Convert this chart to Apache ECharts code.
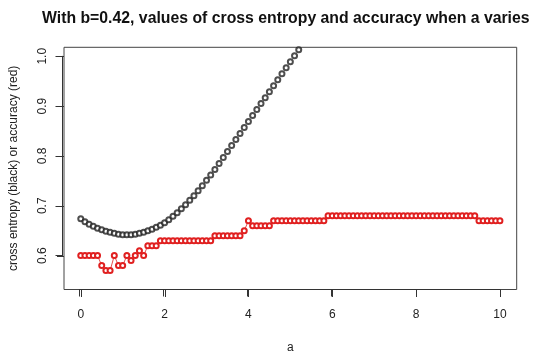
<!DOCTYPE html>
<html>
<head>
<meta charset="utf-8">
<script src="https://cdn.jsdelivr.net/npm/echarts@6/dist/echarts.min.js"></script>
<style>
html,body{margin:0;padding:0;background:#fff;}
#chart{width:540px;height:360px;}
</style>
</head>
<body>
<div id="chart"></div>
<script>
var aValues = [0.0,0.1,0.2,0.3,0.4,0.5,0.6,0.7,0.8,0.9,1.0,1.1,1.2,1.3,1.4,1.5,1.6,1.7,1.8,1.9,2.0,2.1,2.2,2.3,2.4,2.5,2.6,2.7,2.8,2.9,3.0,3.1,3.2,3.3,3.4,3.5,3.6,3.7,3.8,3.9,4.0,4.1,4.2,4.3,4.4,4.5,4.6,4.7,4.8,4.9,5.0,5.1,5.2,5.3,5.4,5.5,5.6,5.7,5.8,5.9,6.0,6.1,6.2,6.3,6.4,6.5,6.6,6.7,6.8,6.9,7.0,7.1,7.2,7.3,7.4,7.5,7.6,7.7,7.8,7.9,8.0,8.1,8.2,8.3,8.4,8.5,8.6,8.7,8.8,8.9,9.0,9.1,9.2,9.3,9.4,9.5,9.6,9.7,9.8,9.9,10.0];
// cross entropy (black) — only the part inside the plot region is visible
var crossEntropy = [0.674,0.668,0.663,0.659,0.655,0.652,0.649,0.647,0.645,0.643,0.642,0.642,0.642,0.643,0.645,0.647,0.650,0.653,0.657,0.661,0.666,0.672,0.679,0.686,0.694,0.702,0.711,0.720,0.730,0.740,0.751,0.762,0.773,0.785,0.797,0.809,0.821,0.833,0.845,0.857,0.869,0.881,0.893,0.905,0.917,0.929,0.941,0.953,0.965,0.977,0.989,1.001,1.013];
// accuracy (red)
var accuracy = [0.60,0.60,0.60,0.60,0.60,0.58,0.57,0.57,0.60,0.58,0.58,0.60,0.59,0.60,0.61,0.60,0.62,0.62,0.62,0.63,0.63,0.63,0.63,0.63,0.63,0.63,0.63,0.63,0.63,0.63,0.63,0.63,0.64,0.64,0.64,0.64,0.64,0.64,0.64,0.65,0.67,0.66,0.66,0.66,0.66,0.66,0.67,0.67,0.67,0.67,0.67,0.67,0.67,0.67,0.67,0.67,0.67,0.67,0.67,0.68,0.68,0.68,0.68,0.68,0.68,0.68,0.68,0.68,0.68,0.68,0.68,0.68,0.68,0.68,0.68,0.68,0.68,0.68,0.68,0.68,0.68,0.68,0.68,0.68,0.68,0.68,0.68,0.68,0.68,0.68,0.68,0.68,0.68,0.68,0.68,0.67,0.67,0.67,0.67,0.67,0.67];
var xTicks = [0,2,4,6,8,10];
var yTicks = [0.6,0.7,0.8,0.9,1.0];
var titleText = 'With b=0.42, values of cross entropy and accuracy when a varies';
var xName = 'a';
var yName = 'cross entropy (black) or accuracy (red)';

var blackData = crossEntropy.map(function(v,i){return [aValues[i], v];});
var redData = accuracy.map(function(v,i){return [aValues[i], v];});

// plot box (R-style 4% axis extension)
var X_MIN = -0.4, X_MAX = 10.4, Y_MIN = 0.532, Y_MAX = 1.018;
var L = 62.5, R = 23.3, T = 47.3, B = 70.5, W = 540, H = 360;
var TICK_LEN = 7;
var pxX = (W - L - R) / (X_MAX - X_MIN);
var pxY = (H - T - B) / (Y_MAX - Y_MIN);
var xt0 = xTicks[0], xt1 = xTicks[xTicks.length-1];
var yt0 = yTicks[0], yt1 = yTicks[yTicks.length-1];

var chart = echarts.init(document.getElementById('chart'), null, {renderer:'canvas'});
var font = 'Liberation Sans, Arial, sans-serif';
var labStyle = {fontFamily:font, fontSize:12, color:'#222'};
var tickOpt = {show:true, inside:false, length:TICK_LEN, lineStyle:{color:'#333', width:1}};

chart.setOption({
  animation:false,
  backgroundColor:'#fff',
  title:{
    text:titleText,
    left:37, top:6,
    textStyle:{fontFamily:font,fontSize:15.8,fontWeight:'bold',color:'#111'}
  },
  grid:[
    {left:L, right:R, top:T, bottom:B, show:true, borderColor:'#444', borderWidth:1, backgroundColor:'transparent'},
    // helper grid spanning exactly the x tick range (for x tick marks)
    {left:L + (xt0 - X_MIN) * pxX, right:R + (X_MAX - xt1) * pxX, top:T, bottom:B, show:false},
    // helper grid spanning exactly the y tick range (for y tick marks)
    {left:L, right:R, top:T + (Y_MAX - yt1) * pxY, bottom:B + (yt0 - Y_MIN) * pxY, show:false}
  ],
  xAxis:[
    {gridIndex:0, type:'value', min:X_MIN, max:X_MAX,
      name:xName, nameLocation:'middle', nameGap:52,
      nameTextStyle:{fontFamily:font,fontSize:12,color:'#222'},
      axisLine:{show:false, onZero:false}, axisTick:{show:false}, splitLine:{show:false},
      axisLabel:Object.assign({margin:19, customValues:xTicks}, labStyle)},
    {gridIndex:1, type:'value', min:xt0, max:xt1, interval:2, position:'bottom',
      axisLine:{show:true, onZero:false, lineStyle:{color:'#333', width:1}},
      axisTick:tickOpt, axisLabel:{show:false}, splitLine:{show:false}},
    {gridIndex:2, type:'value', min:X_MIN, max:X_MAX, show:false}
  ],
  yAxis:[
    {gridIndex:0, type:'value', min:Y_MIN, max:Y_MAX,
      name:yName, nameLocation:'middle', nameGap:44, nameRotate:90, nameMoveOverlap:false,
      nameTextStyle:{fontFamily:font,fontSize:12,color:'#222'},
      axisLine:{show:false, onZero:false}, axisTick:{show:false}, splitLine:{show:false},
      axisLabel:Object.assign({margin:15, rotate:90, customValues:yTicks,
        formatter:function(v){return v.toFixed(1);}}, labStyle)},
    {gridIndex:1, type:'value', min:Y_MIN, max:Y_MAX, show:false},
    {gridIndex:2, type:'value', min:yt0, max:yt1, interval:0.1, position:'left',
      axisLine:{show:true, onZero:false, lineStyle:{color:'#333', width:1}},
      axisTick:tickOpt, axisLabel:{show:false}, splitLine:{show:false}}
  ],
  series:[
    {
      type:'scatter', xAxisIndex:0, yAxisIndex:0, data:blackData, symbol:'emptyCircle', symbolSize:5,
      itemStyle:{color:'#222', borderWidth:0.7},
      clip:true, silent:true, z:3
    },
    {
      type:'line', xAxisIndex:0, yAxisIndex:0, data:redData, symbol:'emptyCircle', symbolSize:5, showSymbol:true,
      lineStyle:{color:'#e02020', width:0.8},
      itemStyle:{color:'#e02020', borderWidth:0.7},
      clip:true, silent:true, z:3
    }
  ]
});

// backup tick marks as graphic rectangles, positioned through the chart's scales
function toPx(x, y){
  var p = null;
  try { p = chart.convertToPixel({xAxisIndex:0, yAxisIndex:0}, [x, y]); } catch(e) { p = null; }
  if (!p || !isFinite(p[0]) || !isFinite(p[1])) {
    p = [L + (x - X_MIN) * pxX, T + (Y_MAX - y) * pxY];
  }
  return p;
}
var tickEls = [];
xTicks.forEach(function(t){
  var p = toPx(t, Y_MIN);
  tickEls.push({type:'rect', silent:true, z:100,
    shape:{x:Math.round(p[0]), y:Math.round(p[1]), width:1, height:TICK_LEN},
    style:{fill:'#333'}});
});
yTicks.forEach(function(t){
  var p = toPx(X_MIN, t);
  tickEls.push({type:'rect', silent:true, z:100,
    shape:{x:Math.round(p[0]) - TICK_LEN, y:Math.round(p[1]), width:TICK_LEN, height:1},
    style:{fill:'#333'}});
});
chart.setOption({graphic:tickEls});
</script>
</body>
</html>
